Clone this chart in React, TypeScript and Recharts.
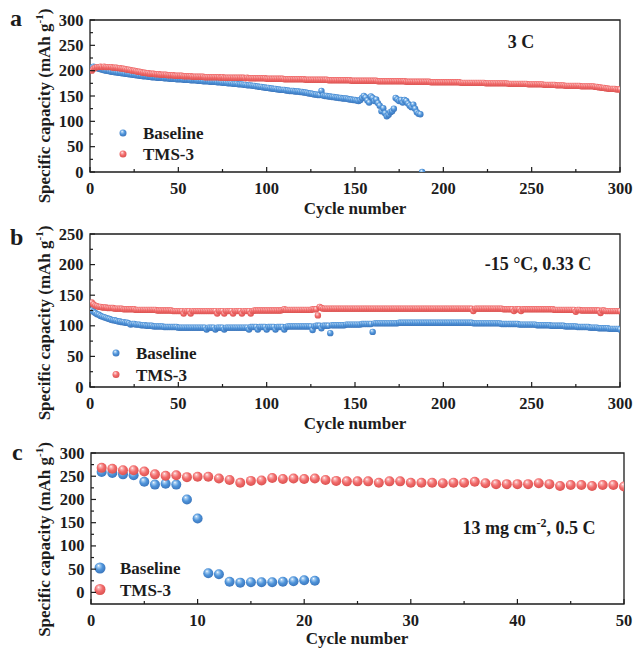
import type { CSSProperties, ReactNode } from "react";
import { ReferenceArea, Scatter, ScatterChart, XAxis, YAxis } from "recharts";

const INK = "#1c1c1c";
const FONT = '"Liberation Serif", "Times New Roman", serif';
const BLUE = "url(#ballBlue)";
const RED = "url(#ballRed)";

// (a) 3 C — specific capacity per cycle, cycle 1 first
const tmsA = [
  200, 204, 206, 207, 207, 208, 207, 208, 207, 207, 207, 207, 206, 206, 206, 205, 205, 204, 204, 203,
  202, 202, 201, 200, 200, 199, 198, 198, 197, 196, 196, 195, 195, 194, 194, 194, 193, 193, 193, 192,
  192, 192, 192, 191, 191, 191, 191, 190, 190, 190, 190, 190, 189, 189, 189, 189, 189, 188, 188, 188,
  188, 188, 188, 188, 187, 187, 187, 187, 187, 187, 187, 187, 187, 186, 187, 186, 186, 186, 186, 186,
  186, 186, 186, 186, 186, 186, 186, 185, 186, 185, 185, 185, 185, 185, 185, 185, 185, 185, 185, 184,
  184, 184, 184, 184, 184, 184, 184, 184, 184, 183, 183, 183, 183, 183, 183, 183, 183, 183, 183, 183,
  183, 182, 182, 182, 182, 182, 182, 182, 182, 182, 182, 182, 182, 182, 181, 181, 181, 181, 181, 181,
  181, 181, 181, 181, 181, 181, 181, 180, 180, 180, 180, 180, 180, 180, 180, 180, 180, 180, 180, 180,
  180, 180, 179, 179, 179, 179, 179, 179, 179, 179, 179, 179, 179, 179, 179, 179, 179, 179, 178, 178,
  178, 178, 178, 178, 178, 178, 178, 178, 178, 178, 178, 178, 177, 177, 177, 177, 177, 177, 177, 177,
  177, 177, 177, 177, 177, 177, 177, 177, 177, 176, 176, 176, 176, 176, 176, 176, 176, 176, 176, 176,
  176, 176, 176, 175, 175, 175, 175, 175, 175, 175, 175, 175, 175, 175, 175, 175, 174, 174, 174, 174,
  174, 174, 174, 174, 174, 174, 174, 173, 173, 173, 173, 173, 173, 173, 173, 173, 172, 172, 172, 172,
  172, 172, 172, 171, 171, 171, 171, 171, 170, 170, 170, 170, 170, 170, 170, 170, 170, 169, 169, 169,
  169, 169, 169, 169, 169, 168, 168, 167, 167, 166, 166, 165, 165, 164, 164, 164, 164, 163, 163, 163,
];
const baseA = [
  206, 208, 207, 205, 204, 203, 202, 201, 200, 200, 199, 198, 198, 197, 197, 196, 196, 195, 195, 194,
  194, 193, 193, 192, 192, 191, 191, 190, 190, 189, 189, 189, 188, 188, 187, 187, 187, 186, 186, 186,
  186, 185, 185, 185, 184, 184, 184, 184, 183, 183, 183, 183, 182, 182, 182, 182, 181, 181, 181, 181,
  180, 180, 180, 179, 179, 179, 179, 178, 178, 178, 178, 177, 177, 177, 176, 176, 176, 175, 175, 175,
  174, 174, 174, 173, 173, 173, 172, 172, 171, 171, 171, 170, 170, 169, 169, 168, 168, 167, 167, 166,
  166, 165, 165, 164, 164, 163, 163, 162, 162, 162, 161, 161, 160, 160, 160, 159, 159, 159, 158, 158,
  157, 157, 156, 155, 155, 154, 153, 153, 152, 152, 160, 151, 150, 150, 149, 149, 148, 148, 147, 147,
  146, 146, 145, 145, 145, 144, 143, 143, 142, 142, 141, 140, 142, 146, 150, 147, 141, 137, 149, 146,
  140, 143, 136, 131, 120, 126, 116, 110, 113, 118, 120, 125, 146, 143, 140, 142, 137, 142, 140, 135,
  131, 128, 133, 125, 118, 115, 114, 0,
];

// (b) -15 °C, 0.33 C
const tmsB = [
  138, 135, 133, 132, 131, 131, 130, 130, 130, 129, 129, 129, 129, 128, 128, 128, 128, 128, 127, 127,
  127, 127, 127, 127, 127, 126, 126, 126, 126, 126, 126, 126, 126, 126, 126, 126, 126, 125, 125, 125,
  125, 125, 125, 125, 125, 125, 124, 124, 124, 124, 124, 124, 120, 124, 124, 124, 120, 124, 124, 124,
  124, 124, 124, 124, 124, 124, 124, 124, 124, 124, 124, 120, 124, 124, 124, 120, 124, 124, 124, 124,
  120, 124, 124, 124, 124, 120, 124, 124, 124, 124, 120, 124, 125, 125, 125, 125, 125, 125, 125, 125,
  125, 125, 125, 125, 125, 125, 125, 125, 126, 127, 126, 126, 126, 126, 126, 126, 126, 126, 126, 126,
  126, 126, 126, 126, 126, 127, 127, 127, 117, 131, 129, 128, 128, 128, 128, 128, 128, 128, 128, 128,
  128, 128, 128, 128, 128, 128, 128, 128, 128, 128, 128, 128, 128, 128, 128, 128, 128, 128, 128, 128,
  128, 128, 128, 128, 128, 128, 128, 128, 128, 128, 128, 128, 128, 128, 128, 128, 128, 128, 128, 128,
  128, 128, 128, 128, 128, 128, 128, 128, 128, 128, 128, 128, 128, 128, 128, 128, 128, 128, 128, 128,
  128, 128, 128, 128, 128, 128, 128, 128, 128, 128, 128, 128, 128, 128, 128, 128, 124, 128, 128, 128,
  128, 128, 128, 128, 128, 128, 128, 128, 128, 128, 128, 128, 128, 127, 127, 127, 127, 127, 127, 124,
  127, 127, 127, 124, 127, 127, 127, 127, 127, 127, 127, 127, 127, 127, 127, 127, 127, 127, 127, 127,
  127, 127, 126, 126, 126, 126, 126, 126, 126, 126, 126, 126, 126, 126, 123, 126, 126, 125, 125, 125,
  125, 125, 125, 125, 125, 125, 125, 125, 121, 125, 125, 124, 124, 124, 124, 124, 124, 124, 124, 124,
];
const baseB = [
  125, 123, 121, 119, 118, 116, 115, 114, 113, 112, 111, 110, 109, 109, 108, 107, 107, 106, 106, 105,
  105, 104, 102, 103, 103, 102, 102, 102, 101, 101, 101, 100, 100, 100, 100, 99, 99, 99, 99, 99,
  99, 98, 98, 98, 98, 98, 98, 98, 98, 97, 97, 97, 97, 97, 97, 97, 97, 97, 97, 97,
  97, 97, 97, 97, 97, 94, 97, 97, 97, 97, 94, 97, 97, 97, 97, 94, 97, 97, 97, 97,
  97, 97, 97, 97, 97, 97, 97, 97, 97, 94, 98, 98, 98, 98, 94, 98, 98, 98, 98, 94,
  98, 98, 98, 98, 94, 98, 98, 98, 98, 94, 98, 99, 99, 99, 99, 99, 99, 99, 99, 99,
  99, 99, 99, 99, 99, 93, 99, 100, 100, 100, 96, 100, 100, 100, 100, 88, 101, 101, 101, 101,
  101, 101, 101, 101, 102, 102, 102, 102, 102, 102, 102, 102, 102, 103, 103, 103, 103, 103, 103, 90,
  104, 104, 104, 104, 104, 104, 104, 104, 104, 104, 104, 104, 104, 104, 105, 105, 105, 105, 105, 105,
  105, 105, 105, 105, 105, 105, 105, 105, 105, 105, 105, 105, 105, 105, 105, 105, 105, 105, 105, 105,
  105, 105, 105, 105, 105, 105, 105, 105, 105, 105, 105, 105, 105, 105, 105, 105, 104, 104, 104, 104,
  104, 104, 104, 104, 104, 104, 104, 104, 104, 104, 104, 104, 103, 103, 103, 103, 103, 103, 103, 103,
  103, 103, 102, 102, 102, 102, 102, 102, 102, 102, 102, 102, 101, 101, 101, 101, 101, 101, 101, 101,
  100, 100, 100, 100, 100, 100, 100, 100, 99, 99, 99, 99, 99, 99, 99, 98, 98, 98, 98, 98,
  98, 98, 97, 97, 97, 97, 97, 96, 96, 96, 96, 96, 96, 95, 95, 95, 95, 95, 95, 94,
];

// (c) 13 mg cm-2, 0.5 C
const tmsC = [
  268, 266, 263, 263, 260, 254, 251, 252, 248, 249, 249, 245, 242, 236, 240, 241, 246, 244, 245, 244,
  245, 242, 240, 239, 239, 239, 236, 239, 239, 236, 236, 236, 235, 236, 236, 238, 235, 233, 233, 233,
  233, 235, 233, 229, 231, 231, 229, 231, 231, 228,
];
const baseC = [259, 257, 254, 252, 238, 232, 234, 232, 200, 159, 41, 39, 23, 21, 22, 22, 22, 23, 24, 26, 25];

const cycleTicks300 = [0, 25, 50, 75, 100, 125, 150, 175, 200, 225, 250, 275, 300];
const capTicks300 = [0, 25, 50, 75, 100, 125, 150, 175, 200, 225, 250, 275, 300];
const capTicks250 = [0, 25, 50, 75, 100, 125, 150, 175, 200, 225, 250];
const cycleTicks50 = [0, 5, 10, 15, 20, 25, 30, 35, 40, 45, 50];

const toPoints = (vals: number[]) => vals.map((y, i) => ({ x: i + 1, y }));

const txt = (size: number): CSSProperties => ({
  fontFamily: FONT,
  fontWeight: "bold",
  fontSize: size,
  fill: INK,
});

interface Series {
  name: string;
  values: number[];
  fill: string;
}

interface PanelProps {
  top: number;
  height: number;
  margin: { top: number; right: number; bottom: number; left: number };
  yWidth: number;
  xMax: number;
  yMin: number;
  yMax: number;
  xTicks: number[];
  xMajor: number;
  yTicks: number[];
  yMajor: number;
  r: number;
  series: Series[];
  decor: ReactNode;
}

function Panel(p: PanelProps) {
  const plotLeft = p.margin.left + p.yWidth;
  const plotBottom = p.height - p.margin.bottom - 30;

  // ticks point inward, labels only on the major ones
  // eslint-disable-next-line @typescript-eslint/no-explicit-any
  const XTick = (t: any) => {
    const v = t.payload.value;
    const major = v % p.xMajor === 0;
    return (
      <g>
        <line x1={t.x} x2={t.x} y1={plotBottom} y2={plotBottom - (major ? 5 : 3)} stroke={INK} strokeWidth={1.2} />
        {major && (
          <text x={t.x} y={plotBottom + 21.5} textAnchor="middle" style={txt(16.5)}>
            {v}
          </text>
        )}
      </g>
    );
  };
  // eslint-disable-next-line @typescript-eslint/no-explicit-any
  const YTick = (t: any) => {
    const v = t.payload.value;
    const major = v % p.yMajor === 0;
    return (
      <g>
        <line x1={plotLeft} x2={plotLeft + (major ? 5 : 3)} y1={t.y} y2={t.y} stroke={INK} strokeWidth={1.2} />
        {major && (
          <text x={plotLeft - 6.5} y={t.y + 5.5} textAnchor="end" style={txt(16.5)}>
            {v}
          </text>
        )}
      </g>
    );
  };

  return (
    <div style={{ position: "absolute", left: 0, top: p.top }}>
      <ScatterChart width={634} height={p.height} margin={p.margin}>
        <XAxis
          type="number"
          dataKey="x"
          domain={[0, p.xMax]}
          ticks={p.xTicks}
          interval={0}
          height={30}
          tickSize={0}
          axisLine={false}
          tickLine={false}
          tick={XTick}
          allowDataOverflow
        />
        <YAxis
          type="number"
          dataKey="y"
          domain={[p.yMin, p.yMax]}
          ticks={p.yTicks}
          interval={0}
          width={p.yWidth}
          tickSize={0}
          axisLine={false}
          tickLine={false}
          tick={YTick}
          allowDataOverflow
          label={() => <g>{p.decor}</g>}
        />
        <ReferenceArea
          x1={0}
          x2={p.xMax}
          y1={p.yMin}
          y2={p.yMax}
          fill="none"
          stroke={INK}
          strokeWidth={1.3}
          ifOverflow="visible"
        />
        {p.series.map((s) => (
          <Scatter
            key={s.name}
            name={s.name}
            data={toPoints(s.values)}
            isAnimationActive={false}
            // eslint-disable-next-line @typescript-eslint/no-explicit-any
            shape={(d: any) => <circle cx={d.cx} cy={d.cy} r={p.r} fill={s.fill} />}
          />
        ))}
      </ScatterChart>
    </div>
  );
}

function YTitle({ cx, cy }: { cx: number; cy: number }) {
  return (
    <text transform={`translate(${cx},${cy}) rotate(-90)`} textAnchor="middle" style={txt(17)}>
      Specific capacity (mAh g
      <tspan dy={-7} style={{ fontSize: 11 }}>
        -1
      </tspan>
      <tspan dy={7}>)</tspan>
    </text>
  );
}

function LegendRows({ x, y, gap, r, textX }: { x: number; y: number; gap: number; r: number; textX: number }) {
  return (
    <g>
      <circle cx={x} cy={y} r={r} fill={BLUE} />
      <text x={textX} y={y + 6} style={txt(17)}>
        Baseline
      </text>
      <circle cx={x} cy={y + gap} r={r} fill={RED} />
      <text x={textX} y={y + gap + 6} style={txt(17)}>
        TMS-3
      </text>
    </g>
  );
}

export default function App() {
  return (
    <div style={{ position: "absolute", left: 0, top: 0, width: 634, height: 649, background: "#fff" }}>
      <svg width={0} height={0} style={{ position: "absolute" }}>
        <defs>
          <radialGradient id="ballBlue" cx="0.45" cy="0.42" r="0.6" fx="0.36" fy="0.28">
            <stop offset="0" stopColor="#ffffff" />
            <stop offset="0.18" stopColor="#a9cff2" />
            <stop offset="0.55" stopColor="#4f94da" />
            <stop offset="1" stopColor="#3a74ba" />
          </radialGradient>
          <radialGradient id="ballRed" cx="0.45" cy="0.42" r="0.6" fx="0.36" fy="0.28">
            <stop offset="0" stopColor="#ffffff" />
            <stop offset="0.18" stopColor="#fab6b6" />
            <stop offset="0.55" stopColor="#f26b6b" />
            <stop offset="1" stopColor="#d9514f" />
          </radialGradient>
        </defs>
      </svg>

      <Panel
        top={0}
        height={220}
        margin={{ top: 20, right: 14, bottom: 18, left: 0 }}
        yWidth={90}
        xMax={300}
        yMin={0}
        yMax={300}
        xTicks={cycleTicks300}
        xMajor={50}
        yTicks={capTicks300}
        yMajor={50}
        r={3.2}
        series={[
          { name: "Baseline", values: baseA, fill: BLUE },
          { name: "TMS-3", values: tmsA, fill: RED },
        ]}
        decor={
          <>
            <text x={10} y={26} style={txt(24)}>a</text>
            <YTitle cx={50} cy={106} />
            <text x={355} y={214} textAnchor="middle" style={txt(17)}>Cycle number</text>
            <text x={521} y={48} textAnchor="middle" style={txt(18)}>3 C</text>
            <LegendRows x={123} y={133} gap={21} r={3.5} textX={143} />
          </>
        }
      />

      <Panel
        top={214}
        height={220}
        margin={{ top: 20, right: 14, bottom: 17, left: 0 }}
        yWidth={90}
        xMax={300}
        yMin={0}
        yMax={250}
        xTicks={cycleTicks300}
        xMajor={50}
        yTicks={capTicks250}
        yMajor={50}
        r={3.2}
        series={[
          { name: "Baseline", values: baseB, fill: BLUE },
          { name: "TMS-3", values: tmsB, fill: RED },
        ]}
        decor={
          <>
            <text x={10} y={31} style={txt(24)}>b</text>
            <YTitle cx={50} cy={109} />
            <text x={355} y={215} textAnchor="middle" style={txt(17)}>Cycle number</text>
            <text x={538} y={55.5} textAnchor="middle" style={txt(18)}>-15 °C, 0.33 C</text>
            <LegendRows x={116} y={139} gap={21.5} r={3.5} textX={136} />
          </>
        }
      />

      <Panel
        top={434}
        height={215}
        margin={{ top: 19, right: 10, bottom: 15, left: 0 }}
        yWidth={91}
        xMax={50}
        yMin={-25}
        yMax={300}
        xTicks={cycleTicks50}
        xMajor={10}
        yTicks={capTicks300}
        yMajor={50}
        r={5}
        series={[
          { name: "Baseline", values: baseC, fill: BLUE },
          { name: "TMS-3", values: tmsC, fill: RED },
        ]}
        decor={
          <>
            <text x={12} y={26} style={txt(24)}>c</text>
            <YTitle cx={50} cy={105.5} />
            <text x={357} y={210} textAnchor="middle" style={txt(17)}>Cycle number</text>
            <text x={529} y={100} textAnchor="middle" style={txt(18)}>
              13 mg cm
              <tspan dy={-7} style={{ fontSize: 12 }}>-2</tspan>
              <tspan dy={7}>, 0.5 C</tspan>
            </text>
            <LegendRows x={100} y={134} gap={21.5} r={5.5} textX={120} />
          </>
        }
      />
    </div>
  );
}
